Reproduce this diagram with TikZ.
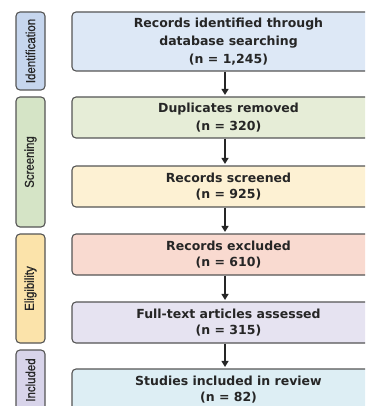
\documentclass[tikz,border=0pt]{standalone}
\usepackage{fontspec}
\setmainfont{DejaVu Sans}
\newfontfamily\sidefont{Liberation Sans}[FakeStretch=0.88,FakeBold=0.8]
\usetikzlibrary{arrows.meta,calc}
\definecolor{labI}{HTML}{C6D6EE}
\definecolor{labS}{HTML}{D5E4C6}
\definecolor{labE}{HTML}{FBE3AA}
\definecolor{labN}{HTML}{D8D4EA}
\definecolor{boxA}{HTML}{DDE8F6}
\definecolor{boxB}{HTML}{E6EDD7}
\definecolor{boxC}{HTML}{FDF1D3}
\definecolor{boxD}{HTML}{F9DAD0}
\definecolor{boxE}{HTML}{E6E3F1}
\definecolor{boxF}{HTML}{DDEEF4}
\definecolor{edge}{HTML}{555555}
\tikzset{
  x=1pt,y=-1pt,
  mainbox/.style={draw=edge,line width=1.1pt,rounded corners=4pt,minimum width=313pt,
    align=center,inner sep=0pt,font=\bfseries\fontsize{12.5}{15.5}\selectfont,text=black!85},
  sidebox/.style={draw=edge,line width=1.1pt,rounded corners=4pt,minimum width=29pt,
    inner sep=0pt,font=\sidefont\fontsize{13}{14}\selectfont,text=black!85},
  arr/.style={draw=black!85,line width=1.3pt,-{Triangle[length=6pt,width=7pt]},shorten >=1.5pt}
}
\begin{document}
\begin{tikzpicture}
\useasboundingbox (0,0) rectangle (365,406);
\clip (0,0) rectangle (365,406);
\fill[white] (0,0) rectangle (365,406);
% side labels
\node[sidebox,fill=labI,minimum height=78pt] (sI) at (30.5,51) {\rotatebox{90}{Identification}};
\node[sidebox,fill=labS,minimum height=130pt] (sS) at (30.5,162) {\rotatebox{90}{Screening}};
\node[sidebox,fill=labE,minimum height=109pt] (sE) at (30.5,288.5) {\rotatebox{90}{Eligibility}};
\node[sidebox,fill=labN,minimum height=60pt] (sN) at (30.5,380) {\rotatebox{90}{Included}};
% main boxes
\node[mainbox,fill=boxA,minimum height=59pt] (b1) at (228.5,41.5) {\raisebox{-1.5pt}{\shortstack{Records identified through\\[2.5pt]database searching\\[2.5pt](n = 1,245)}}};
\node[mainbox,fill=boxB,minimum height=41pt] (b2) at (228.5,117.5) {\raisebox{-1.5pt}{\shortstack{Duplicates removed\\[2.5pt](n = 320)}}};
\node[mainbox,fill=boxC,minimum height=41pt] (b3) at (228.5,186.5) {\raisebox{-1.5pt}{\shortstack{Records screened\\[2.5pt](n = 925)}}};
\node[mainbox,fill=boxD,minimum height=41pt] (b4) at (228.5,254.5) {\raisebox{-1.5pt}{\shortstack{Records excluded\\[2.5pt](n = 610)}}};
\node[mainbox,fill=boxE,minimum height=41pt] (b5) at (228.5,322.5) {\raisebox{-1.5pt}{\shortstack{Full-text articles assessed\\[2.5pt](n = 315)}}};
\node[mainbox,fill=boxF,minimum height=41pt] (b6) at (228.5,389.5) {\raisebox{-1.5pt}{\shortstack{Studies included in review\\[2.5pt](n = 82)}}};
% arrows
\coordinate (ax) at (225,0);
\draw[arr] (b1.south -| ax) -- (b2.north -| ax);
\draw[arr] (b2.south -| ax) -- (b3.north -| ax);
\draw[arr] (b3.south -| ax) -- (b4.north -| ax);
\draw[arr] (b4.south -| ax) -- (b5.north -| ax);
\draw[arr] (b5.south -| ax) -- (b6.north -| ax);
\end{tikzpicture}
\end{document}
